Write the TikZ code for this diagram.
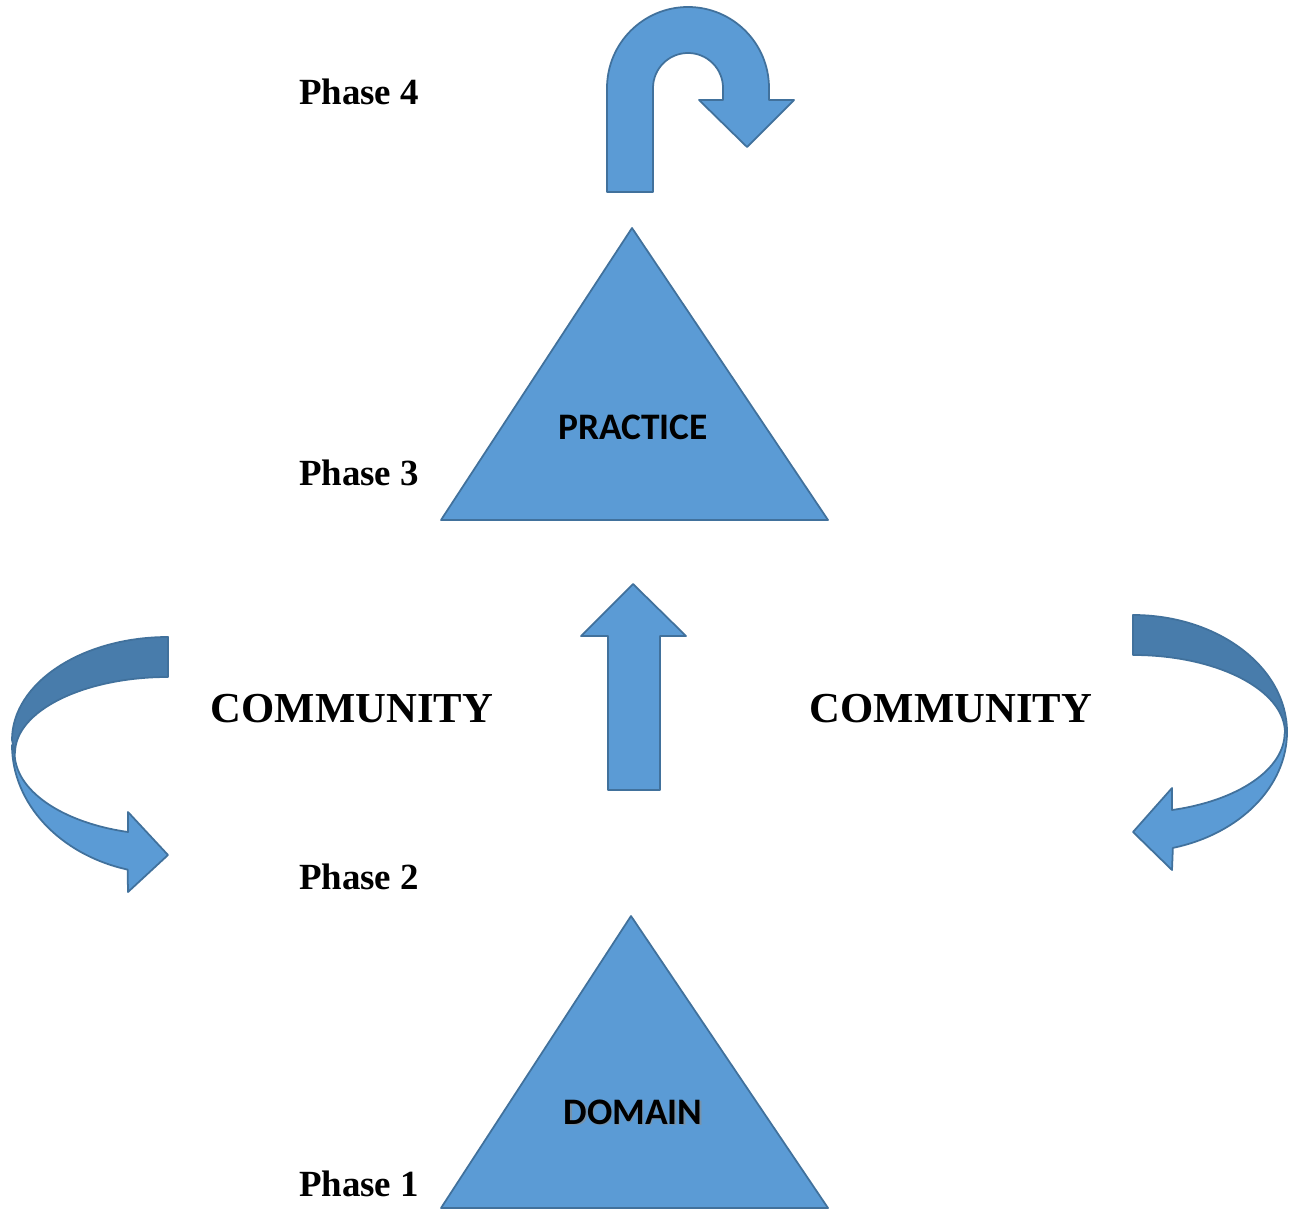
\documentclass[tikz,border=0pt]{standalone}
\usepackage{fontspec}
\setmainfont{Liberation Serif}
\newfontfamily\carlito{Carlito}
\definecolor{bluefill}{HTML}{5B9BD5}
\definecolor{blueline}{HTML}{41719C}
\definecolor{bandback}{RGB}{72,124,171}

\begin{document}
\begin{tikzpicture}[x=0.02cm,y=-0.02cm,
	blueshape/.style={fill=bluefill,draw=blueline,line width=1pt,line join=round},
	backband/.style={fill=bandback,draw=blueline,line width=1pt,line join=round},
	phase/.style={font=\bfseries\fontsize{21}{21}\selectfont},
	community/.style={font=\bfseries\fontsize{24.3}{24.3}\selectfont},
	inside/.style={font=\carlito\bfseries\fontsize{21.3}{21.3}\selectfont}]
		\useasboundingbox (0,0) rectangle (1293,1212);
		% 三角形の頂点
		\coordinate (P_top) at (632, 228);
		\coordinate (P_left) at (441, 520);
		\coordinate (P_right) at (828, 520);
		\coordinate (D_top) at (631, 916);
		\coordinate (D_left) at (441, 1208);
		\coordinate (D_right) at (828, 1208);
		% 三角形の描画
		\draw [blueshape] (P_top)--(P_right)--(P_left)--cycle;
		\draw [blueshape] (D_top)--(D_right)--(D_left)--cycle;
		% 上向きの矢印
		\draw [blueshape] (608, 790)--(608, 636)--(581, 636)--(633, 584)--(686, 636)--(660, 636)--(660, 790)--cycle;
		% Uターンの矢印
		\draw [blueshape] (607, 192)--(607, 88) arc [start angle=180, end angle=360, radius=81]
			--(769, 100)--(794, 100)--(747, 147)--(699, 100)--(723, 100)--(723, 88)
			arc [start angle=0, end angle=-180, radius=35]--(653, 192)--cycle;
		% 左の曲がった矢印
		\draw [backband] (168, 637) arc [start angle=270, end angle=180, x radius=156, y radius=103]
			--(15, 753) arc [start angle=180, end angle=270, x radius=153, y radius=76]--cycle;
		\draw [blueshape] (12, 745) arc [start angle=180, end angle=105, x radius=156, y radius=129]
			--(128, 892)--(168, 855)--(128, 812)--(128, 832)
			arc [start angle=105, end angle=180, x radius=153, y radius=82]--cycle;
		% 右の曲がった矢印
		\draw [backband] (1133, 615) arc [start angle=270, end angle=360, x radius=154, y radius=117]
			--(1285, 733) arc [start angle=360, end angle=270, x radius=152, y radius=78]--cycle;
		\draw [blueshape] (1287, 732) arc [start angle=0, end angle=75, x radius=154, y radius=120]
			--(1172, 870)--(1133, 832)--(1172, 788)--(1172, 810)
			arc [start angle=75, end angle=0, x radius=152, y radius=80]--cycle;
		% 文字
		\node [phase] (phase4) at (359, 92) {Phase 4};
		\node [phase] (phase3) at (359, 473) {Phase 3};
		\node [phase] (phase2) at (359, 877) {Phase 2};
		\node [phase] (phase1) at (359, 1184) {Phase 1};
		\node [community] (comm_left) at (352, 709) {COMMUNITY};
		\node [community] (comm_right) at (951, 709) {COMMUNITY};
		\node [inside] (practice) at (633, 427) {PRACTICE};
		\node [inside, black!45, opacity=0.6] at (634.5, 1113.5) {DOMAIN};
		\node [inside] (domain) at (633, 1112) {DOMAIN};
	\end{tikzpicture}
\end{document}
